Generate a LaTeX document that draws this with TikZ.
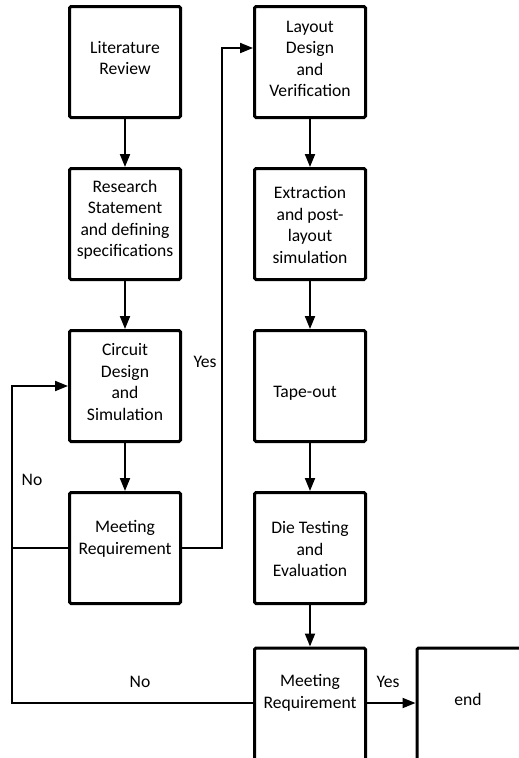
\documentclass[tikz,border=0pt]{standalone}
\usepackage{fontspec}
\setmainfont{Carlito}
\usetikzlibrary{arrows.meta}
\begin{document}
\begin{tikzpicture}[x=1pt,y=-1pt,
 box/.style={draw, line width=3pt, rounded corners=1.5pt, minimum width=111pt, minimum height=111pt, inner sep=0pt},
 cutbox/.style={box, minimum width=160pt, minimum height=140pt, anchor=north west},
 txt/.style={align=center, font=\fontsize{17.6}{21.5}\selectfont, inner sep=0pt},
 conn/.style={line width=2pt},
 arr/.style={conn, -{Triangle[length=13pt,width=10pt]}},
 lbl/.style={font=\fontsize{17.6}{21.5}\selectfont, inner sep=0pt}]
\useasboundingbox (0,0) rectangle (519,758);
\clip (0,0) rectangle (519,758);
\fill[white] (0,0) rectangle (519,758);
% boxes
\node[box] (lit) at (125,62) {};
\node[box] (res) at (125,224) {};
\node[box] (cir) at (125,386) {};
\node[box] (mr1) at (125,548) {};
\node[box] (lay) at (310,62) {};
\node[box] (ext) at (310,224) {};
\node[box] (tap) at (310,386) {};
\node[box] (die) at (310,548) {};
\node[box, minimum height=140pt, anchor=north] (mr2) at (310,646.5) {};
\node[cutbox] (end) at (415.5,646.5) {};
% texts
\node[txt] (tlit) at (125,58) {Literature\\Review};
\node[txt] (tres) at (125,220) {Research\\Statement\\and defining\\specifications};
\node[txt] (tcir) at (125,382) {Circuit\\Design\\and\\Simulation};
\node[txt] (tmr1) at (125,539) {Meeting\\Requirement};
\node[txt] (tlay) at (310,59) {Layout\\Design\\and\\Verification};
\node[txt] (text) at (310,225) {Extraction\\and post-\\layout\\simulation};
\node[txt] (ttap) at (305,393) {Tape-out};
\node[txt] (tdie) at (310,549) {Die Testing\\and\\Evaluation};
\node[txt] (tmr2) at (310,693) {Meeting\\Requirement};
\node[txt] (tend) at (468,699) {end};
% coordinates
\coordinate (ya) at (222,548);
\coordinate (yb) at (222,48);
\coordinate (nt) at (12,386);
\coordinate (nb) at (12,703);
% connectors
\draw[arr] (lit) -- (res);
\draw[arr] (res) -- (cir);
\draw[arr] (cir) -- (mr1);
\draw[arr] (lay) -- (ext);
\draw[arr] (ext) -- (tap);
\draw[arr] (tap) -- (die);
\draw[arr] (die) -- (mr2);
\draw[arr] (mr1.east) -- (ya) -- (yb) -- (lay.west |- yb);
\draw[arr] (mr2.west |- nb) -- (nb) -- (nt) -- (cir.west);
\draw[conn] (mr1.west) -- (mr1.west -| nt);
\draw[arr] (mr2.east |- nb) -- (end.west |- nb);
% labels
\node[lbl] (no1) at (32,480) {No};
\node[lbl] (yes1) at (205,362) {Yes};
\node[lbl] (no2) at (140,682) {No};
\node[lbl] (yes2) at (388,682) {Yes};
\end{tikzpicture}
\end{document}
